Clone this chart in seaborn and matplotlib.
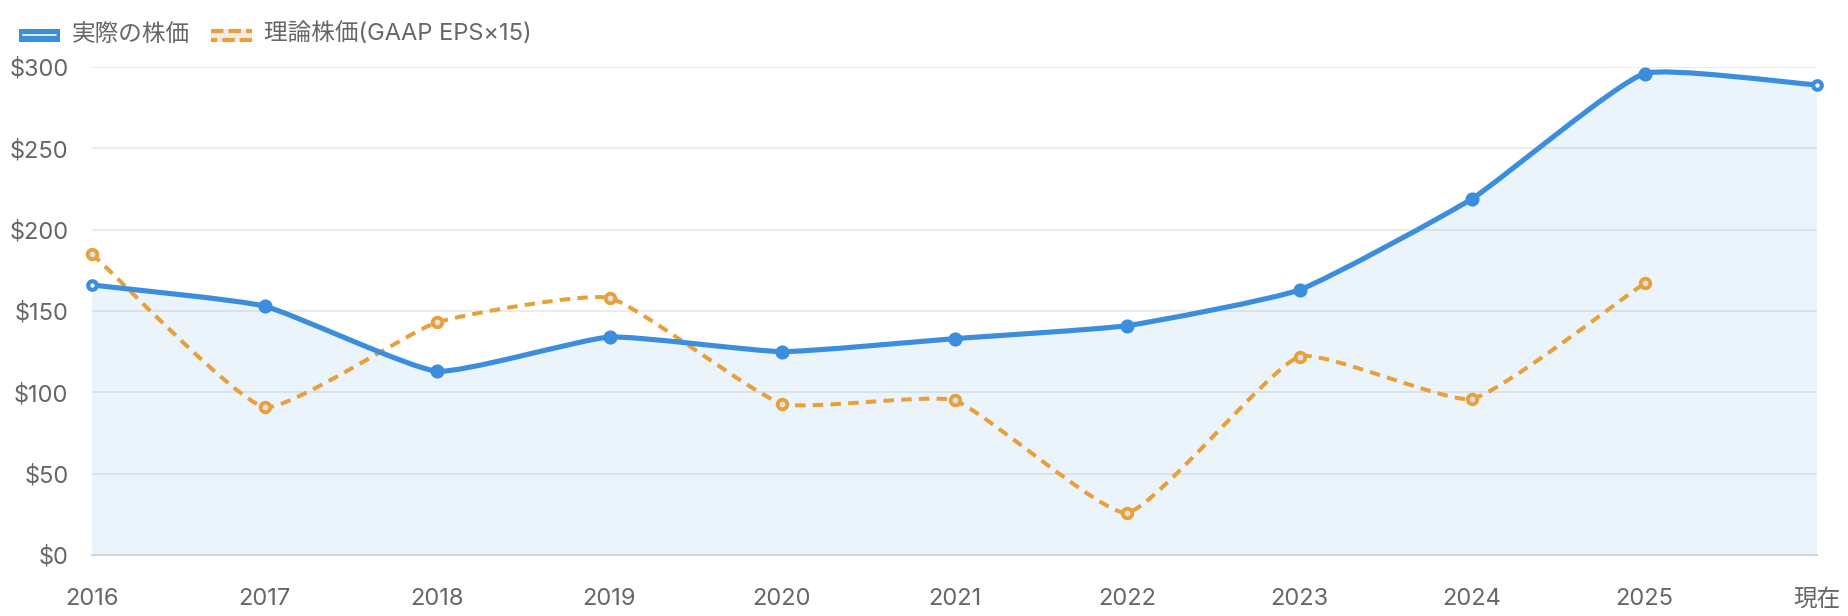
import numpy as np
import seaborn as sns
import matplotlib
matplotlib.use("Agg")
import matplotlib.pyplot as plt
from matplotlib.path import Path
from matplotlib.patches import PathPatch, Rectangle
from matplotlib.lines import Line2D
from matplotlib.legend_handler import HandlerBase

# データ
labels = ["2016", "2017", "2018", "2019", "2020", "2021", "2022", "2023", "2024", "2025", "現在"]
actual_price = [166, 153, 113, 134, 125, 133, 141, 163, 219, 296, 289]
theory_price = [185, 91, 143, 158, 93, 95, 26, 122, 96, 167]
yticks = [0, 50, 100, 150, 200, 250, 300]

BLUE = "#3b8ede"
ORANGE = "#e7a03a"
GRID = "#e6e6e6"
TEXT = "#666666"

sns.set_theme(style="white")
plt.rcParams["font.family"] = ["Inter", "Noto Sans CJK JP", "DejaVu Sans"]

W, H = 1848, 616
fig = plt.figure(figsize=(W / 100, H / 100), dpi=100)
ax = fig.add_axes([92 / W, 1 - 555 / H, (1817 - 92) / W, (555 - 67) / H])
ax.set_xlim(0, len(labels) - 1)
ax.set_ylim(0, 300)


def smooth_path(xs, ys, tension=0.15):
    # Chart.js風のベジェ曲線(ピクセル空間で制御点を計算)
    pts = ax.transData.transform(np.column_stack([xs, ys]))
    x0, y0 = ax.transData.transform((0, 0))
    x1, y1 = ax.transData.transform((len(labels) - 1, 300))
    n = len(pts)
    cin, cout = [], []
    for i in range(n):
        p0 = pts[max(i - 1, 0)]
        p1 = pts[i]
        p2 = pts[min(i + 1, n - 1)]
        d01 = np.hypot(*(p1 - p0))
        d12 = np.hypot(*(p2 - p1))
        tot = d01 + d12
        s01 = d01 / tot if tot else 0
        s12 = d12 / tot if tot else 0
        c_prev = p1 - tension * s01 * (p2 - p0)
        c_next = p1 + tension * s12 * (p2 - p0)
        for c in (c_prev, c_next):
            c[0] = min(max(c[0], x0), x1)
            c[1] = min(max(c[1], y0), y1)
        cin.append(c_prev)
        cout.append(c_next)
    verts = [pts[0]]
    codes = [Path.MOVETO]
    for i in range(1, n):
        verts += [cout[i - 1], cin[i], pts[i]]
        codes += [Path.CURVE4] * 3
    inv = ax.transData.inverted()
    return inv.transform(np.array(verts)), codes


# 軸とグリッド
ax.set_yticks(yticks)
ax.set_yticklabels([f"${v}" for v in yticks])
ax.set_xticks(range(len(labels)))
ax.set_xticklabels(labels)
ax.grid(axis="y", color=GRID, linewidth=1.1, zorder=0)
ax.grid(axis="x", visible=False)
for s in ["top", "right", "left"]:
    ax.spines[s].set_visible(False)
ax.spines["bottom"].set_color("#cdd3db")
ax.spines["bottom"].set_linewidth(1.3)
ax.tick_params(axis="y", length=12, color=GRID, width=1.1, pad=5, labelsize=17, labelcolor=TEXT)
ax.tick_params(axis="x", length=0, pad=24, labelsize=17, labelcolor=TEXT)

xs_a = np.arange(len(actual_price))
xs_t = np.arange(len(theory_price))

# 実際の株価(塗りつぶし+曲線)
va, ca = smooth_path(xs_a, actual_price)
fill_verts = np.vstack([va, [[xs_a[-1], 0], [xs_a[0], 0], va[0]]])
fill_codes = ca + [Path.LINETO, Path.LINETO, Path.CLOSEPOLY]
ax.add_patch(PathPatch(Path(fill_verts, fill_codes), facecolor=BLUE, alpha=0.1, edgecolor="none", zorder=1))
ax.add_patch(PathPatch(Path(va, ca), facecolor="none", edgecolor=BLUE, linewidth=3.7, capstyle="round", zorder=3))

# 理論株価(破線曲線)
vt, ct = smooth_path(xs_t, theory_price)
ax.add_patch(PathPatch(Path(vt, ct), facecolor="none", edgecolor=ORANGE, linewidth=2.9,
                       linestyle=(0, (2.6, 1.8)), zorder=2))

# マーカー
sns.scatterplot(x=xs_a[1:-1], y=actual_price[1:-1], ax=ax, s=75, color=BLUE, edgecolor=BLUE,
                linewidth=1.5, zorder=4, clip_on=False, legend=False)
sns.scatterplot(x=xs_a[[0, -1]], y=np.array(actual_price)[[0, -1]], ax=ax, s=38, color="white",
                edgecolor=BLUE, linewidth=3, zorder=5, clip_on=False, legend=False)
sns.scatterplot(x=xs_t, y=theory_price, ax=ax, s=48, color="#dcdfe3", edgecolor=ORANGE,
                linewidth=2.7, zorder=4, clip_on=False, legend=False)

ax.set_xlabel("")
ax.set_ylabel("")


# 凡例(Chart.js風のボックス)
class SolidBox(HandlerBase):
    def create_artists(self, legend, orig, xd, yd, w, h, fs, trans):
        r = Rectangle((xd, yd), w, h, facecolor=BLUE, edgecolor="none", transform=trans)
        ln = Line2D([xd + 3, xd + w - 3], [yd + h / 2] * 2, color="white", linewidth=1.2, transform=trans)
        return [r, ln]


class DashBox(HandlerBase):
    def create_artists(self, legend, orig, xd, yd, w, h, fs, trans):
        r = Rectangle((xd, yd), w, h, facecolor="#ececec", edgecolor="none", transform=trans)
        top = Line2D([xd, xd + w], [yd + h - 1.5] * 2, color=ORANGE, linewidth=3,
                     linestyle=(0, (3, 1.2)), transform=trans)
        bot = Line2D([xd, xd + w], [yd + 1.5] * 2, color=ORANGE, linewidth=3,
                     linestyle=(1.5, (3, 1.2)), transform=trans)
        return [r, top, bot]


h1 = Rectangle((0, 0), 1, 1)
h2 = Line2D([], [])
fig.legend([h1, h2], ["実際の株価", "理論株価(GAAP EPS×15)"], loc="center left",
           bbox_to_anchor=(19 / W, 1 - 34 / H), ncol=2, frameon=False, fontsize=17,
           labelcolor=TEXT, handlelength=1.74, handleheight=0.5, handletextpad=0.5,
           columnspacing=0.9, borderpad=0, borderaxespad=0,
           handler_map={h1: SolidBox(), h2: DashBox()})

fig.savefig("out.png", dpi=100)
